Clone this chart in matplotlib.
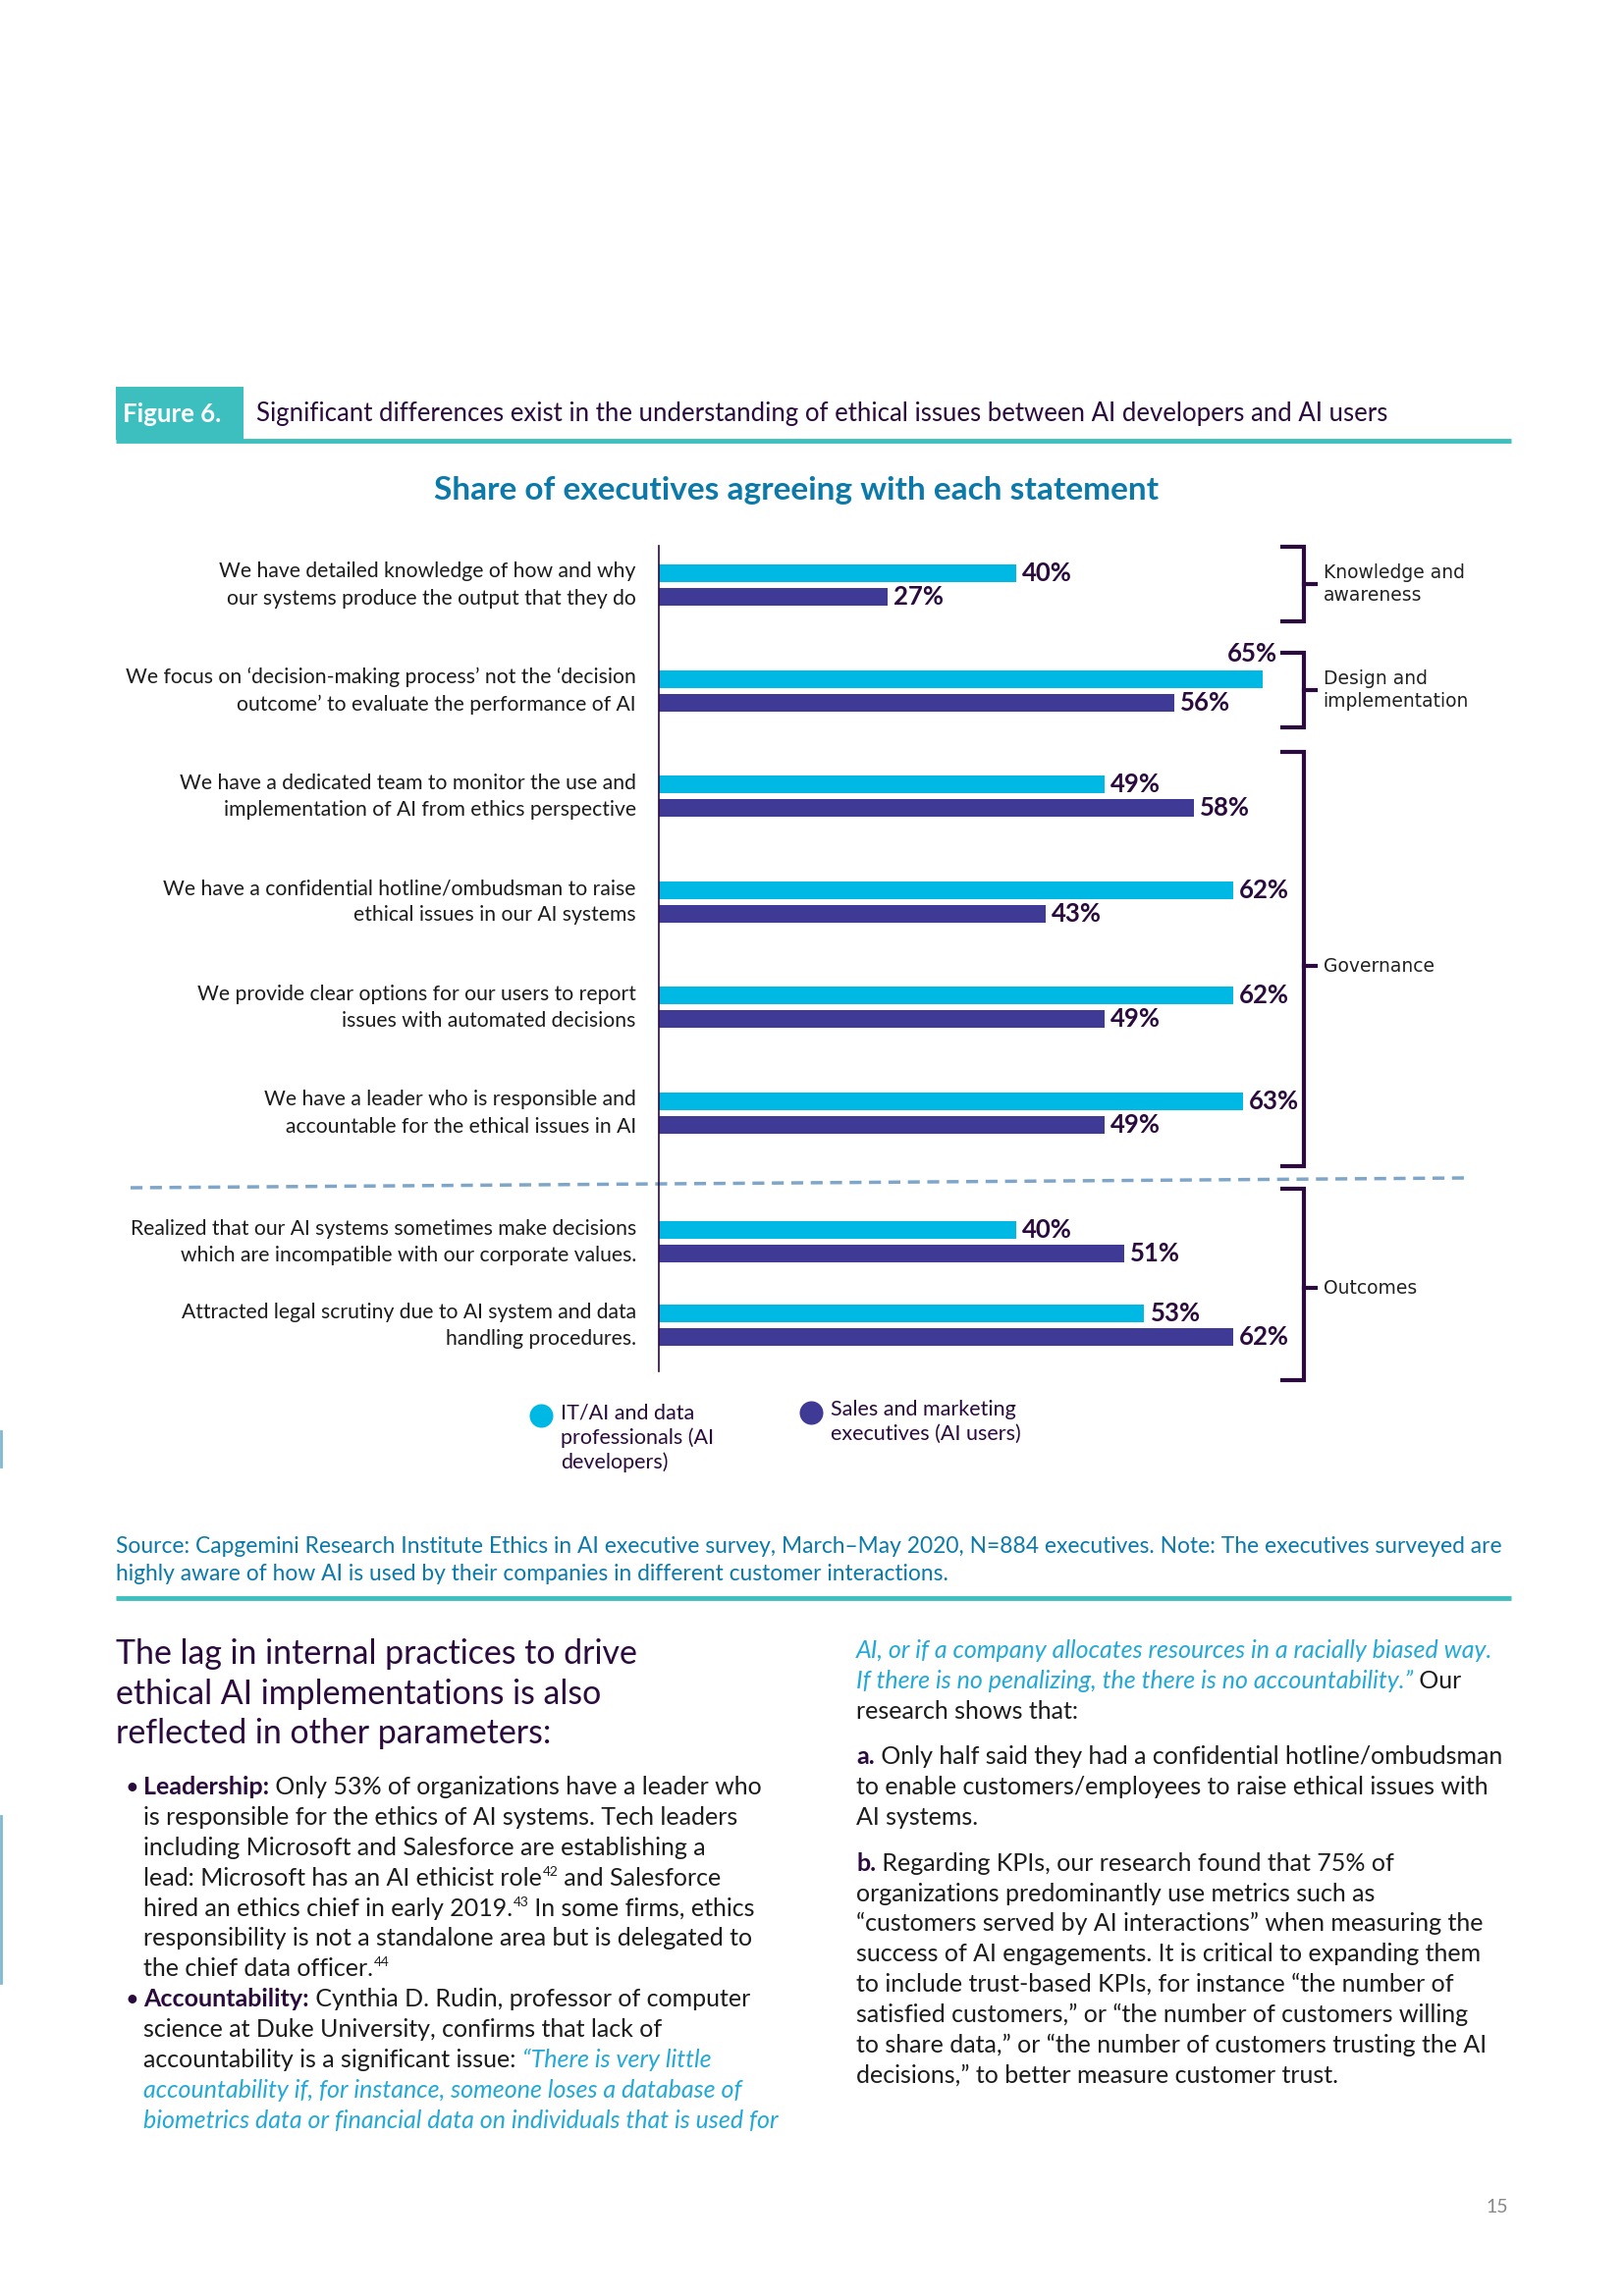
import matplotlib.pyplot as plt
from matplotlib.patches import Rectangle

plt.rcParams['font.family'] = ['Lato', 'DejaVu Sans']

statements = [
    'We have detailed knowledge of how and why\nour systems produce the output that they do',
    'We focus on \u2018decision-making process\u2019 not the \u2018decision\noutcome\u2019 to evaluate the performance of AI',
    'We have a dedicated team to monitor the use and\nimplementation of AI from ethics perspective',
    'We have a confidential hotline/ombudsman to raise\nethical issues in our AI systems',
    'We provide clear options for our users to report\nissues with automated decisions',
    'We have a leader who is responsible and\naccountable for the ethical issues in AI',
    'Realized that our AI systems sometimes make decisions\nwhich are incompatible with our corporate values.',
    'Attracted legal scrutiny due to AI system and data\nhandling procedures.',
]
developers = [40, 65, 49, 62, 62, 63, 40, 53]
users = [27, 56, 58, 43, 49, 49, 51, 62]
groups = ['Knowledge and\nawareness', 'Design and\nimplementation', 'Governance', 'Outcomes']
group_rows = [(0, 0), (1, 1), (2, 5), (6, 7)]
legend_labels = ['IT/AI and data\nprofessionals (AI\ndevelopers)',
                 'Sales and marketing\nexecutives (AI users)']

CYAN = '#00b8e4'
PURPLE = '#3f3a95'
DARK = '#2b0a3d'
TEAL = '#3dbfbf'
BLUE = '#0b79aa'
QUOTE = '#22a9d8'
TXT = '#1c1c1c'

# layout (row positions, bracket paddings, label nudges)
rows = [0, 1, 2, 3, 4, 5, 6.22, 7.01]
pads = [(0.36, 0.34), (0.36, 0.35), (0.42, 0.50), (0.50, 0.52)]
tick_shift = [0, 0, 0.07, 0.03]
X0 = 3.9          # value at the axis line
PXU = 10.07       # pixels per percent

W, H = 1654, 2339
fig = plt.figure(figsize=(16.54, 23.39), dpi=100)
page = fig.add_axes([0, 0, 1, 1])
page.set_xlim(0, W)
page.set_ylim(H, 0)
page.axis('off')

# header
page.add_patch(Rectangle((118, 394), 130, 54, color=TEAL, lw=0))
page.text(125, 422, 'Figure 6.', color='white', fontsize=18.5, fontweight='bold', va='center')
page.text(261, 422, 'Significant differences exist in the understanding of ethical issues between AI developers and AI users',
          color=DARK, fontsize=18.5, va='center')
page.plot([118, 1539], [449, 449], color=TEAL, lw=3.5, solid_capstyle='butt')
page.text(811, 500, 'Share of executives agreeing with each statement', color=BLUE,
          fontsize=24, fontweight='bold', ha='center', va='center')

# chart
top_px, bot_px = 556, 1397
ax = fig.add_axes([671 / W, 1 - bot_px / H, 960 / W, (bot_px - top_px) / H])
ax.set_xlim(X0, X0 + 960 / PXU)
ax.set_ylim((bot_px - 596) / 107.6, (top_px - 596) / 107.6)
ax.patch.set_alpha(0)
for s in ['top', 'right', 'bottom']:
    ax.spines[s].set_visible(False)
ax.spines['left'].set_color(DARK)
ax.spines['left'].set_linewidth(1.2)
ax.set_xticks([])
ax.set_yticks([])

off = 0.112
ax.barh([r - off for r in rows], [v - X0 for v in developers], left=X0, height=0.168, color=CYAN)
ax.barh([r + off for r in rows], [v - X0 for v in users], left=X0, height=0.168, color=PURPLE)

for r, v in zip(rows, developers):
    if v >= 65:
        ax.text(v + 1.5, r - off - 0.24, f'{v}%', ha='right', va='center',
                fontsize=18.5, fontweight='bold', color=DARK)
    else:
        ax.text(v + 0.6, r - off, f'{v}%', ha='left', va='center',
                fontsize=18.5, fontweight='bold', color=DARK)
for r, v in zip(rows, users):
    ax.text(v + 0.6, r + off, f'{v}%', ha='left', va='center',
            fontsize=18.5, fontweight='bold', color=DARK)

for r, s in zip(rows, statements):
    ax.text(X0 - 2.3, r, s, ha='right', va='center', fontsize=15.2,
            color=TXT, linespacing=1.45)

# brackets
bx, bl, br = 69.1, 67.0, 70.3
for (a, b), (pt, pb), sh, g in zip(group_rows, pads, tick_shift, groups):
    top, bot = rows[a] - pt, rows[b] + pb
    mid = (top + bot) / 2 + sh
    ax.plot([bl, bx, bx, bl], [top, top, bot, bot], color=DARK, lw=3,
            solid_joinstyle='miter', clip_on=False)
    ax.plot([bx, br], [mid, mid], color=DARK, lw=3, clip_on=False)
    ax.text(71.1, mid, g, ha='left', va='center', fontsize=13.5, color='#222222',
            family='DejaVu Sans', linespacing=1.3, clip_on=False)

# dashed separator
page.plot([133, 1493], [1210, 1200], color='#7fa6c9', lw=2.5, linestyle=(0, (3.5, 2.2)))

# legend
for (cx, cy), c, lab in zip([(551, 1442), (826, 1439)], [CYAN, PURPLE], legend_labels):
    page.scatter([cx], [cy], s=300, color=c, lw=0)
    page.text(cx + 20, cy - 13, lab, ha='left', va='top', fontsize=15.5, color=DARK, linespacing=1.3)

# source
page.text(118, 1575, 'Source: Capgemini Research Institute Ethics in AI executive survey, March\u2013May 2020, N=884 executives. Note: The executives surveyed are',
          color=BLUE, fontsize=16.4, va='center')
page.text(118, 1604, 'highly aware of how AI is used by their companies in different customer interactions.',
          color=BLUE, fontsize=16.4, va='center')
page.plot([118, 1539], [1628, 1628], color=TEAL, lw=3.5, solid_capstyle='butt')

# body text
for i, line in enumerate(['The lag in internal practices to drive',
                          'ethical AI implementations is also',
                          'reflected in other parameters:']):
    page.text(118, 1685 + i * 40.5, line, color=DARK, fontsize=24.4, va='center')

styles = {
    'r': dict(color=TXT),
    'b': dict(color=DARK, fontweight='bold'),
    'q': dict(color=QUOTE, style='italic'),
    's': dict(color=TXT),
}
renderer = fig.canvas.get_renderer()


def draw_runs(x, y, parts, size=18):
    for s, st in parts:
        if st == 's':
            t = page.text(x + 1, y - 10, s, fontsize=size * 0.55, va='baseline', **styles[st])
        else:
            t = page.text(x, y, s, fontsize=size, va='baseline', **styles[st])
        x += t.get_window_extent(renderer).width


left_lines = [
    [('Leadership:', 'b'), (' Only 53% of organizations have a leader who', 'r')],
    [('is responsible for the ethics of AI systems. Tech leaders', 'r')],
    [('including Microsoft and Salesforce are establishing a', 'r')],
    [('lead: Microsoft has an AI ethicist role', 'r'), ('42', 's'), (' and Salesforce', 'r')],
    [('hired an ethics chief in early 2019.', 'r'), ('43', 's'), (' In some firms, ethics', 'r')],
    [('responsibility is not a standalone area but is delegated to', 'r')],
    [('the chief data officer.', 'r'), ('44', 's')],
    [('Accountability:', 'b'), (' Cynthia D. Rudin, professor of computer', 'r')],
    [('science at Duke University, confirms that lack of', 'r')],
    [('accountability is a significant issue: ', 'r'), ('\u201cThere is very little', 'q')],
    [('accountability if, for instance, someone loses a database of', 'q')],
    [('biometrics data or financial data on individuals that is used for', 'q')],
]
for i, parts in enumerate(left_lines):
    y = 1828 + i * 30.9
    if i in (0, 7):
        page.text(128, y, '\u2022', fontsize=17, color=DARK, va='baseline')
    draw_runs(146, y, parts)

right_lines = [
    [('AI, or if a company allocates resources in a racially biased way.', 'q')],
    [('If there is no penalizing, the there is no accountability.\u201d', 'q'), (' Our', 'r')],
    [('research shows that:', 'r')],
    None,
    [('a.', 'b'), (' Only half said they had a confidential hotline/ombudsman', 'r')],
    [('to enable customers/employees to raise ethical issues with', 'r')],
    [('AI systems.', 'r')],
    None,
    [('b.', 'b'), (' Regarding KPIs, our research found that 75% of', 'r')],
    [('organizations predominantly use metrics such as', 'r')],
    [('\u201ccustomers served by AI interactions\u201d when measuring the', 'r')],
    [('success of AI engagements. It is critical to expanding them', 'r')],
    [('to include trust-based KPIs, for instance \u201cthe number of', 'r')],
    [('satisfied customers,\u201d or \u201cthe number of customers willing', 'r')],
    [('to share data,\u201d or \u201cthe number of customers trusting the AI', 'r')],
    [('decisions,\u201d to better measure customer trust.', 'r')],
]
y = 1689
for parts in right_lines:
    if parts is None:
        y += 16
        continue
    draw_runs(872, y, parts)
    y += 30.8

page.text(1525, 2249, '15', fontsize=14, color='#888888', ha='center', va='center')

# page edge marks
page.plot([1, 1], [1458, 1494], color='#7fb8d0', lw=2)
page.plot([1, 1], [1850, 2020], color='#7fb8d0', lw=2)

fig.savefig('out.png', dpi=100)
